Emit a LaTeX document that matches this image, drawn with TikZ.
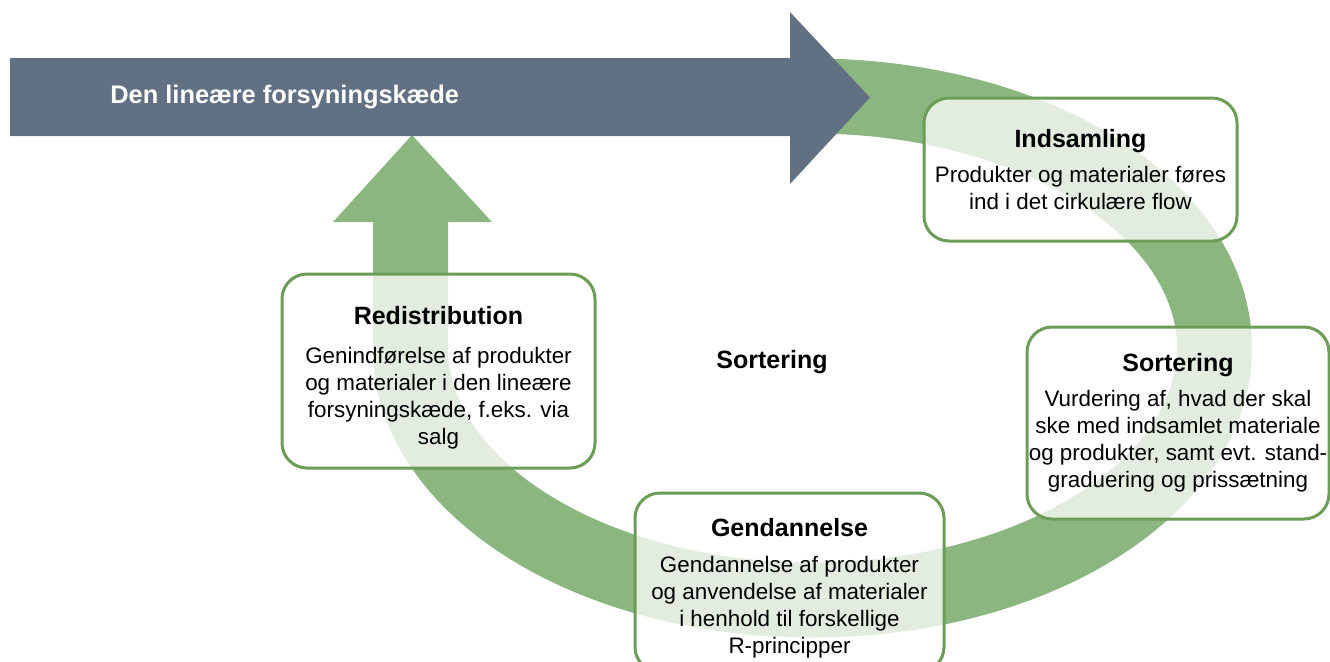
\documentclass[tikz,border=0pt]{standalone}
\usepackage{fontspec}
\setmainfont{Liberation Sans}
\usepackage{tikz}
\usetikzlibrary{positioning}
\definecolor{slate}{HTML}{617083}
\definecolor{leaf}{HTML}{8CB680}
\definecolor{leafdark}{HTML}{6B9D57}
\newcommand{\stephead}[1]{{\bfseries\fontsize{12.5}{13.65}\selectfont #1}}
\tikzset{
    box/.style={ % rounded step boxes
        rectangle,
        rounded corners=12.5pt,
        draw=leafdark,
        line width=1.5pt,
        fill=white,
        fill opacity=0.75
        },
    boxtext/.style={ % text inside a step box
        font=\fontsize{11.2}{13.6}\selectfont,
        align=center,
        inner sep=0pt
        },
    headtext/.style={
        font=\bfseries\fontsize{12.5}{15}\selectfont,
        inner sep=0pt
        },
    arrtext/.style={ % label on the dark arrow
        headtext,
        text=white,
        font=\bfseries\fontsize{12.7}{15}\selectfont
        },
    band/.style={ % circular flow
        draw=leaf,
        line width=37.5pt
        }
}
\begin{document}
\begin{tikzpicture}[x=0.5pt,y=-0.5pt]
\useasboundingbox (0,0) rectangle (1330,661);

%%%%% circular flow
\coordinate (up0) at (410.5,215);
\draw[band] (up0) -- (410.5,348) arc[start angle=180, end angle=455, x radius=201pt, y radius=126pt];

%%%%% head of the up arrow
\fill[leaf] (333,222) -- (492,222) -- (412,135) -- cycle;

%%%%% linear chain arrow
\fill[slate] (10,58) -- (790,58) -- (790,12) -- (870,97.5) -- (790,184) -- (790,136) -- (10,136) -- cycle;
\node[arrtext, anchor=west] (lin) at (110,97) {Den lineære forsyningskæde};

%%%%% box ind
\node[box, minimum width=156.5pt, minimum height=71.5pt] (ind) at (1080.5,169.5) {};
\node[boxtext, below=16pt of ind.north] (indtxt) {
\stephead{Indsamling}\\[4pt]
Produkter og materialer føres\\
ind i det cirkulære flow};

%%%%% box sort
\node[box, minimum width=151pt, minimum height=96pt] (sort) at (1178,423) {};
\node[boxtext, below=13.5pt of sort.north] (sorttxt) {
\stephead{Sortering}\\[4pt]
Vurdering af, hvad der skal\\
ske med indsamlet materiale\\
og produkter, samt evt. stand-\\
graduering og prissætning};

%%%%% box gen
\node[box, minimum width=154.5pt, minimum height=89.5pt] (gen) at (789.5,582.5) {};
\node[boxtext, below=13pt of gen.north] (gentxt) {
\stephead{Gendannelse}\\[4.5pt]
Gendannelse af produkter\\
og anvendelse af materialer\\
i henhold til forskellige\\
R-principper};

%%%%% box red
\node[box, minimum width=156.5pt, minimum height=97pt] (red) at (438.5,371) {};
\node[boxtext, below=16.5pt of red.north] (redtxt) {
\stephead{Redistribution}\\[6pt]
Genindførelse af produkter\\
og materialer i den lineære\\
forsyningskæde, f.eks. via\\
salg};

%%%%% label in the middle
\node[headtext] (mid) at (772,362) {Sortering};

\end{tikzpicture}
\end{document}
